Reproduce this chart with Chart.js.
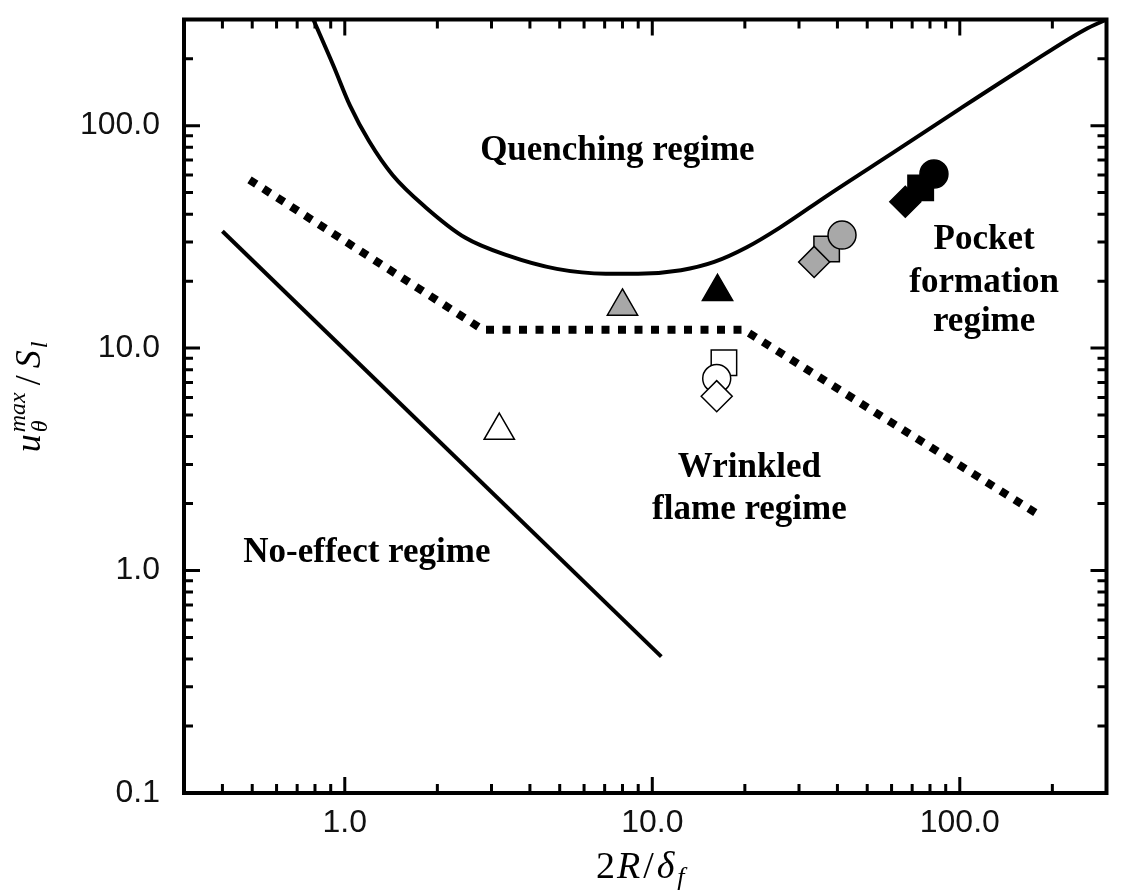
<!DOCTYPE html>
<html>
<head>
<meta charset="utf-8">
<title>Flame regime diagram</title>
<script src="https://cdn.jsdelivr.net/npm/chart.js@4.4.1/dist/chart.umd.min.js"></script>
<style>
  html, body { margin: 0; padding: 0; background: #fff; }
  #wrap { width: 1126px; height: 894px; }
</style>
</head>
<body>
<div id="wrap"><canvas id="regimeChart" width="1126" height="894"></canvas></div>
<script>
// --- Axis ticks ---
const xMajorTicks = [1, 10, 100];
const xTickLabels = ['1.0', '10.0', '100.0'];
const xMinorTicks = [0.4, 0.5, 0.6, 0.7, 0.8, 0.9, 2, 3, 4, 5, 6, 7, 8, 9, 20, 30, 40, 50, 60, 70, 80, 90, 200];
const yMajorTicks = [0.1, 1, 10, 100];
const yTickLabels = ['0.1', '1.0', '10.0', '100.0'];
const yMinorTicks = [0.2, 0.3, 0.4, 0.5, 0.6, 0.7, 0.8, 0.9, 2, 3, 4, 5, 6, 7, 8, 9, 20, 30, 40, 50, 60, 70, 80, 90, 200];

// --- Regime boundaries ---
// no-effect / wrinkled (straight solid line)
const noEffectX = [0.4, 10.7];
const noEffectY = [33.5, 0.41];
// wrinkled / pocket (thick dotted line)
const wrinkledX = [0.49, 2.81, 19.8, 176];
const wrinkledY = [57.1, 12.1, 12.1, 1.82];
// quenching boundary (solid curve)
const quenchX = [0.79, 0.92, 1.04, 1.2, 1.43, 1.83, 2.46, 3.38, 4.89, 7.06, 9.0, 12.4, 15.9, 20.3, 26, 37.5, 61.4, 100, 164, 255, 300];
const quenchY = [300, 185, 123, 85, 60, 43, 31.4, 26.1, 22.7, 21.6, 21.6, 22.4, 24.4, 28.4, 34.8, 49, 76.4, 119, 185, 270, 300];

// --- Simulation cases (open / grey / black) ---
const triangleX = [3.18, 8.0, 16.3];
const triangleY = [4.26, 15.4, 17.9];
const squareX = [17.1, 36.9, 74.6];
const squareY = [8.6, 27.9, 52.5];
const circleX = [16.2, 41.4, 82.4];
const circleY = [7.3, 32.2, 60.6];
const diamondX = [16.2, 33.6, 66.5];
const diamondY = [6.08, 24.4, 45.5];

// --- Region labels ---
const regionText = ['Quenching regime', 'Pocket', 'formation', 'regime', 'Wrinkled', 'flame regime', 'No-effect regime'];
const regionX = [7.7, 120, 120, 120, 20.7, 20.7, 1.18];
const regionY = [69.9, 27.9, 17.9, 11.9, 2.62, 1.70, 1.096];

// styles
const caseFill = ['#ffffff', '#a8a8a8', '#000000'];
const TICK_FONT = '"Liberation Sans", Arial, sans-serif';
const SERIF = '"Liberation Serif", "Times New Roman", serif';

const pts = (xs, ys) => xs.map((x, i) => ({ x: x, y: ys[i] }));

function markerSet(xs, ys, style, radius) {
    return {
        data: pts(xs, ys),
        showLine: false,
        pointStyle: style,
        pointRadius: radius,
        pointBackgroundColor: caseFill,
        pointBorderColor: '#000',
        pointBorderWidth: 1.5
    };
}

function lineSet(xs, ys, width, dash, smooth) {
    return {
        data: pts(xs, ys),
        showLine: true,
        borderColor: '#000',
        borderWidth: width,
        borderDash: dash,
        borderCapStyle: 'butt',
        pointRadius: 0,
        cubicInterpolationMode: smooth ? 'monotone' : 'default',
        tension: 0
    };
}

// draws a run of text pieces (for sub/superscripts), centred on cx
function drawRun(ctx, pieces, cx, baseY) {
    let total = 0;
    pieces.forEach(p => {
        ctx.font = p.font;
        p.w = ctx.measureText(p.t).width;
    });
    pieces.forEach((p, i) => {
        if (p.stack) return;
        const w = p.withPrev ? Math.max(p.w, pieces[i - 1].w) : p.w;
        total += w + (p.gap || 0);
    });
    let x = cx - total / 2;
    pieces.forEach((p, i) => {
        ctx.font = p.font;
        ctx.fillText(p.t, x, baseY + (p.dy || 0));
        if (p.stack) return;
        const w = p.withPrev ? Math.max(p.w, pieces[i - 1].w) : p.w;
        x += w + (p.gap || 0);
    });
}

const decorations = {
    id: 'decorations',
    afterDatasetsDraw(chart) {
        const { ctx, chartArea: a, scales: { x, y } } = chart;
        ctx.save();
        ctx.strokeStyle = '#000';
        ctx.fillStyle = '#000';
        ctx.lineCap = 'butt';

        // inward ticks on all four sides
        ctx.lineWidth = 3;
        const xTicks = (vals, len) => vals.forEach(v => {
            const px = x.getPixelForValue(v);
            ctx.beginPath();
            ctx.moveTo(px, a.bottom); ctx.lineTo(px, a.bottom - len);
            ctx.moveTo(px, a.top); ctx.lineTo(px, a.top + len);
            ctx.stroke();
        });
        const yTicks = (vals, len) => vals.forEach(v => {
            const py = y.getPixelForValue(v);
            ctx.beginPath();
            ctx.moveTo(a.left, py); ctx.lineTo(a.left + len, py);
            ctx.moveTo(a.right, py); ctx.lineTo(a.right - len, py);
            ctx.stroke();
        });
        xTicks(xMinorTicks, 9);
        xTicks(xMajorTicks, 16);
        yTicks(yMinorTicks, 9);
        yTicks(yMajorTicks, 16);

        // frame
        ctx.lineWidth = 4;
        ctx.strokeRect(a.left, a.top, a.right - a.left, a.bottom - a.top);

        // region labels
        ctx.font = 'bold 35px ' + SERIF;
        ctx.textAlign = 'center';
        ctx.textBaseline = 'alphabetic';
        regionText.forEach((t, i) => {
            ctx.fillText(t, x.getPixelForValue(regionX[i]), y.getPixelForValue(regionY[i]));
        });

        // axis titles
        ctx.textAlign = 'left';
        drawRun(ctx, [
            { t: '2', font: '38px ' + SERIF, gap: 2 },
            { t: 'R', font: 'italic 38px ' + SERIF, gap: 3 },
            { t: '/', font: '38px ' + SERIF, gap: 3 },
            { t: 'δ', font: 'italic 38px ' + SERIF, gap: 3 },
            { t: 'f', font: 'italic 26px ' + SERIF, dy: 7 }
        ], (a.left + a.right) / 2 - 5, 878);

        ctx.translate(40, 397);
        ctx.rotate(-Math.PI / 2);
        drawRun(ctx, [
            { t: 'u', font: 'italic 36px ' + SERIF, gap: 2 },
            { t: 'θ', font: 'italic 24px ' + SERIF, dy: 7, stack: true },
            { t: 'max', font: 'italic 24px ' + SERIF, dy: -15, withPrev: true, gap: 7 },
            { t: '/', font: '36px ' + SERIF, gap: 7 },
            { t: 'S', font: 'italic 36px ' + SERIF, gap: 2 },
            { t: 'l', font: 'italic 24px ' + SERIF, dy: 7 }
        ], 0, 0);
        ctx.restore();
    }
};

// fixed axis boxes so the plot frame sits where the original one does
function fixBox(s, size) {
    if (s.isHorizontal()) s.height = size; else s.width = size;
    s.paddingTop = 0;
    s.paddingBottom = 0;
    s.paddingLeft = 0;
    s.paddingRight = 0;
}

const ctx = document.getElementById('regimeChart').getContext('2d');
new Chart(ctx, {
    type: 'scatter',
    data: {
        datasets: [
            markerSet(diamondX, diamondY, 'rectRot', 15.5),
            markerSet(circleX, circleY, 'circle', 14),
            markerSet(squareX, squareY, 'rect', 18),
            markerSet(triangleX, triangleY, 'triangle', 17.5),
            lineSet(noEffectX, noEffectY, 4, [], false),
            lineSet(wrinkledX, wrinkledY, 8, [8, 8.5], false),
            lineSet(quenchX, quenchY, 4, [], true)
        ]
    },
    options: {
        responsive: false,
        animation: false,
        devicePixelRatio: 1,
        events: [],
        layout: { padding: { top: 11, right: 3, left: 0, bottom: 0 } },
        plugins: {
            legend: { display: false },
            tooltip: { enabled: false }
        },
        scales: {
            x: {
                type: 'logarithmic',
                min: 0.3,
                max: 300,
                grid: { display: false, drawTicks: false },
                border: { display: false },
                ticks: {
                    autoSkip: false,
                    maxRotation: 0,
                    padding: 11,
                    color: '#111',
                    font: { family: TICK_FONT, size: 32 },
                    callback: (v, i) => xTickLabels[i]
                },
                afterBuildTicks: s => { s.ticks = xMajorTicks.map(v => ({ value: v })); },
                afterFit: s => fixBox(s, 101)
            },
            y: {
                type: 'logarithmic',
                min: 0.1,
                max: 300,
                grid: { display: false, drawTicks: false },
                border: { display: false },
                ticks: {
                    autoSkip: false,
                    padding: 24,
                    color: '#111',
                    font: { family: TICK_FONT, size: 32 },
                    callback: (v, i) => yTickLabels[i]
                },
                afterBuildTicks: s => { s.ticks = yMajorTicks.map(v => ({ value: v })); },
                afterFit: s => fixBox(s, 184)
            }
        }
    },
    plugins: [decorations]
});
</script>
</body>
</html>
